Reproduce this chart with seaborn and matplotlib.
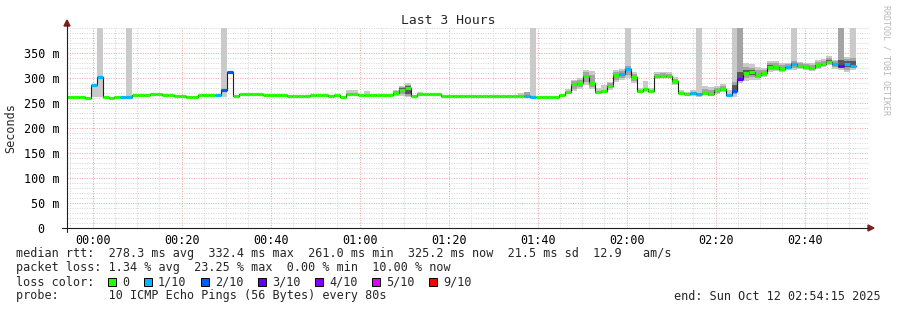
import numpy as np
import matplotlib
matplotlib.use("Agg")
import matplotlib.pyplot as plt
import seaborn as sns
from matplotlib.patches import Rectangle, Polygon
from matplotlib.lines import Line2D
from matplotlib.ticker import MultipleLocator, FuncFormatter

# ---------------- data ----------------
# median RTT per 80 s step (ms), starting 23:54:15
median_ms = [262, 262, 262, 261, 287, 303, 262, 261, 262, 263,
             263, 266, 266, 266, 268, 268, 266, 266, 264, 264,
             263, 263, 266, 266, 266, 266, 277, 312, 264, 268,
             268, 268, 268, 266, 266, 266, 266, 264, 264, 264,
             264, 266, 266, 266, 265, 266, 262, 268, 268, 266,
             266, 266, 266, 266, 266, 271, 276, 281, 264, 269,
             269, 269, 269, 265, 265, 265, 264, 264, 264, 264,
             264, 264, 264, 264, 264, 264, 264, 265, 263, 263,
             263, 263, 263, 266, 273, 288, 291, 304, 291, 273,
             275, 284, 306, 309, 319, 303, 274, 278, 274, 305,
             305, 304, 294, 271, 268, 270, 268, 270, 268, 276,
             279, 267, 275, 299, 311, 312, 306, 311, 323, 323,
             319, 323, 328, 325, 323, 321, 326, 328, 332, 328,
             325, 329, 325]

# lost pings (out of 10) per step
loss = [0, 0, 0, 0, 1, 1, 0, 0, 0, 1,
        1, 0, 0, 0, 0, 0, 0, 0, 0, 0,
        0, 0, 0, 0, 0, 1, 2, 2, 0, 0,
        0, 0, 0, 0, 0, 0, 0, 0, 0, 0,
        0, 0, 0, 0, 0, 0, 0, 0, 0, 0,
        0, 0, 0, 0, 0, 0, 0, 0, 0, 0,
        0, 0, 0, 0, 0, 0, 0, 0, 0, 0,
        0, 0, 0, 0, 0, 0, 0, 1, 1, 0,
        0, 0, 0, 0, 0, 0, 0, 0, 0, 0,
        0, 0, 0, 1, 1, 0, 0, 0, 0, 0,
        0, 0, 0, 0, 0, 1, 1, 0, 0, 0,
        0, 1, 2, 3, 0, 0, 0, 0, 0, 0,
        0, 1, 1, 0, 0, 0, 0, 0, 0, 1,
        3, 1, 1]

# smoke (ping spread) per step: index -> (low ms, high ms); 420 = off scale
smoke_outer = {4: (262, 287), 5: (262, 420), 10: (262, 420), 26: (263, 420),
               47: (266, 277), 48: (266, 276), 50: (265, 274), 55: (264, 276),
               56: (264, 284), 57: (262, 290), 59: (268, 273), 76: (263, 270),
               77: (263, 273), 78: (262, 420), 84: (268, 279), 85: (274, 297),
               86: (278, 300), 87: (286, 316), 88: (278, 314), 89: (268, 280),
               90: (270, 286), 91: (276, 293), 92: (292, 316), 93: (296, 318),
               94: (300, 420), 95: (290, 312), 96: (270, 281), 97: (272, 294),
               98: (270, 280), 99: (298, 312), 100: (300, 313), 101: (300, 312),
               102: (286, 302), 103: (268, 277), 104: (266, 272), 105: (264, 276),
               106: (262, 420), 107: (266, 284), 108: (264, 282), 109: (268, 284),
               110: (272, 288), 111: (262, 277), 112: (262, 420), 113: (290, 420),
               114: (294, 330), 115: (296, 328), 116: (296, 322), 117: (302, 320),
               118: (312, 334), 119: (314, 334), 120: (312, 330), 121: (316, 330),
               122: (316, 420), 123: (318, 333), 124: (316, 330), 125: (314, 330),
               126: (318, 336), 127: (322, 338), 128: (326, 344), 129: (318, 336),
               130: (316, 420), 131: (312, 342), 132: (316, 420)}
smoke_mid = {55: (266, 275), 56: (268, 282), 57: (264, 287), 77: (265, 272),
             85: (278, 294), 86: (282, 296), 87: (292, 312), 88: (282, 306),
             91: (280, 290), 92: (296, 312), 93: (300, 315), 94: (306, 324),
             95: (294, 308), 99: (300, 309), 100: (301, 310), 101: (300, 309),
             102: (289, 298), 107: (267, 278), 108: (265, 276), 109: (271, 281),
             110: (274, 284), 112: (268, 292), 113: (294, 420), 114: (300, 322),
             115: (302, 320), 116: (300, 316), 117: (304, 316), 118: (316, 330),
             119: (316, 330), 120: (314, 326), 121: (318, 328), 122: (320, 334),
             123: (320, 330), 124: (318, 328), 125: (316, 327), 126: (320, 332),
             127: (324, 334), 128: (328, 340), 129: (322, 334), 130: (320, 420),
             131: (316, 338), 132: (320, 340)}
smoke_inner = {56: (272, 280), 57: (268, 284), 112: (272, 286), 113: (299, 313),
               114: (306, 316), 115: (306, 316), 118: (320, 326), 122: (324, 330),
               128: (330, 336), 130: (322, 336), 131: (322, 334), 132: (322, 334)}

loss_labels = ["0", "1/10", "2/10", "3/10", "4/10", "5/10", "9/10"]
loss_levels = [0, 1, 2, 3, 4, 5, 9]
loss_colors = ["#26ff00", "#00b8ff", "#0059ff", "#5e00ff", "#7e00ff", "#dd00ff", "#ff0000"]

x_tick_minutes = [0, 20, 40, 60, 80, 100, 120, 140, 160]
x_tick_labels = ["00:00", "00:20", "00:40", "01:00", "01:20", "01:40", "02:00", "02:20", "02:40"]

start_min = -5.75          # 23:54:15 relative to 00:00
step_min = 80 / 60.0
end_min = 174.25           # 02:54:15

legend_lines = [
    "median rtt:  278.3 ms avg  332.4 ms max  261.0 ms min  325.2 ms now  21.5 ms sd  12.9   am/s",
    "packet loss: 1.34 % avg  23.25 % max  0.00 % min  10.00 % now",
    "loss color:",
    "probe:       10 ICMP Echo Pings (56 Bytes) every 80s",
]

# ---------------- figure ----------------
sns.set_theme(style="white")
plt.rcParams['font.family'] = ['DejaVu Sans Mono', 'DejaVu Sans']

W, H = 897, 310
fig = plt.figure(figsize=(W / 100, H / 100), dpi=100)
fig.patch.set_facecolor("white")
ax = fig.add_axes([67 / W, 1 - 228 / H, 801 / W, 200 / H])
ax.set_facecolor("white")

med = np.array(median_ms, dtype=float)
n = len(med)
t = start_min + np.arange(n) * step_min

# smoke layers
for layer, col in ((smoke_outer, "#cacaca"), (smoke_mid, "#a4a4a4"), (smoke_inner, "#585858")):
    idx = np.array(sorted(layer.keys()))
    lo = np.array([layer[k][0] for k in idx], dtype=float)
    hi = np.array([layer[k][1] for k in idx], dtype=float)
    ax.bar(t[idx], hi - lo, bottom=lo, width=step_min, align="edge",
           color=col, linewidth=0, zorder=2)

# median step line
tx = np.append(t, t[-1] + step_min)
my = np.append(med, med[-1])
sns.lineplot(x=tx, y=my, ax=ax, drawstyle="steps-post", color="#202020",
             linewidth=0.8, estimator=None, zorder=3)

# loss-coloured median segments
cmap = dict(zip(loss_levels, loss_colors))
seg_cols = [cmap[l] for l in loss]
ax.hlines(med, t, t + step_min, colors=seg_cols, linewidth=2.3, zorder=4)

ax.set_xlim(start_min, end_min)
ax.set_ylim(0, 400)

for s in ax.spines.values():
    s.set_visible(False)

minor_col = "#d2d2d2"
major_col = "#eba0a0"

ax.set_xticks(x_tick_minutes)
ax.set_xticklabels(x_tick_labels)
ax.xaxis.set_minor_locator(MultipleLocator(5))
ax.set_yticks(np.arange(0, 351, 50))
ax.yaxis.set_minor_locator(MultipleLocator(10))
ax.yaxis.set_major_formatter(FuncFormatter(lambda v, p: "0  " if v == 0 else f"{int(v)} m"))
ax.tick_params(axis="both", which="minor", length=0)
ax.tick_params(axis="x", which="major", length=1.5, width=0.7, color=major_col,
               direction="out", labelsize=8.5, pad=2.8, colors="black")
ax.tick_params(axis="x", which="major", color=major_col)
ax.tick_params(axis="y", which="major", length=2.2, width=0.7, direction="out",
               labelsize=8.5, pad=3.0, labelcolor="black", color=major_col)

ax.grid(which="minor", color=minor_col, linestyle=(0, (1, 1.5)), linewidth=0.7, zorder=1)
ax.grid(which="major", color=major_col, linestyle=(0, (1, 1.5)), linewidth=0.7, zorder=1)
ax.set_axisbelow(True)
ax.set_xlabel("")
ax.set_ylabel("Seconds", fontsize=8.5)
ax.yaxis.set_label_coords(-50 / 801, 0.5)

# axis lines + arrows (pixel coordinates -> figure fraction)
def fx(px):
    return px / W

def fy(py):
    return 1 - py / H

axis_col = "#1f1f1f"
arrow_col = "#7f1f1f"
fig.add_artist(Line2D([fx(62), fx(868)], [fy(228), fy(228)], color=axis_col, lw=0.8))
fig.add_artist(Line2D([fx(67), fx(67)], [fy(232), fy(25)], color=axis_col, lw=0.8))
fig.add_artist(Polygon([[fx(868), fy(225)], [fx(874), fy(228)], [fx(868), fy(231)]],
                       closed=True, color=arrow_col, transform=fig.transFigure))
fig.add_artist(Polygon([[fx(64), fy(26)], [fx(67), fy(20)], [fx(70), fy(26)]],
                       closed=True, color=arrow_col, transform=fig.transFigure))

# title and side label
fig.text(fx(448), fy(20), "Last 3 Hours", ha="center", va="center", fontsize=9.4)
fig.text(fx(886), fy(60), "RRDTOOL / TOBI OETIKER", ha="center", va="center",
         rotation=270, fontsize=6, color="#b8b8b8")

# legend text
row_y = [253, 268, 282, 296]
for s, yy in zip(legend_lines, row_y):
    fig.text(fx(16), fy(yy), s, ha="left", va="center", fontsize=8.5)

cw = 7.14
xx = 108.0
for lab, col in zip(loss_labels, loss_colors):
    fig.add_artist(Rectangle((fx(xx), fy(286)), 8 / W, 8 / H, transform=fig.transFigure,
                             facecolor=col, edgecolor="black", linewidth=0.7))
    fig.text(fx(xx + 2 * cw), fy(282), lab, ha="left", va="center", fontsize=8.5)
    xx += (len(lab) + 4) * cw

fig.text(fx(881), fy(296), "end: Sun Oct 12 02:54:15 2025", ha="right", va="center", fontsize=8.5)

fig.savefig("out.png", dpi=100, facecolor="white")
